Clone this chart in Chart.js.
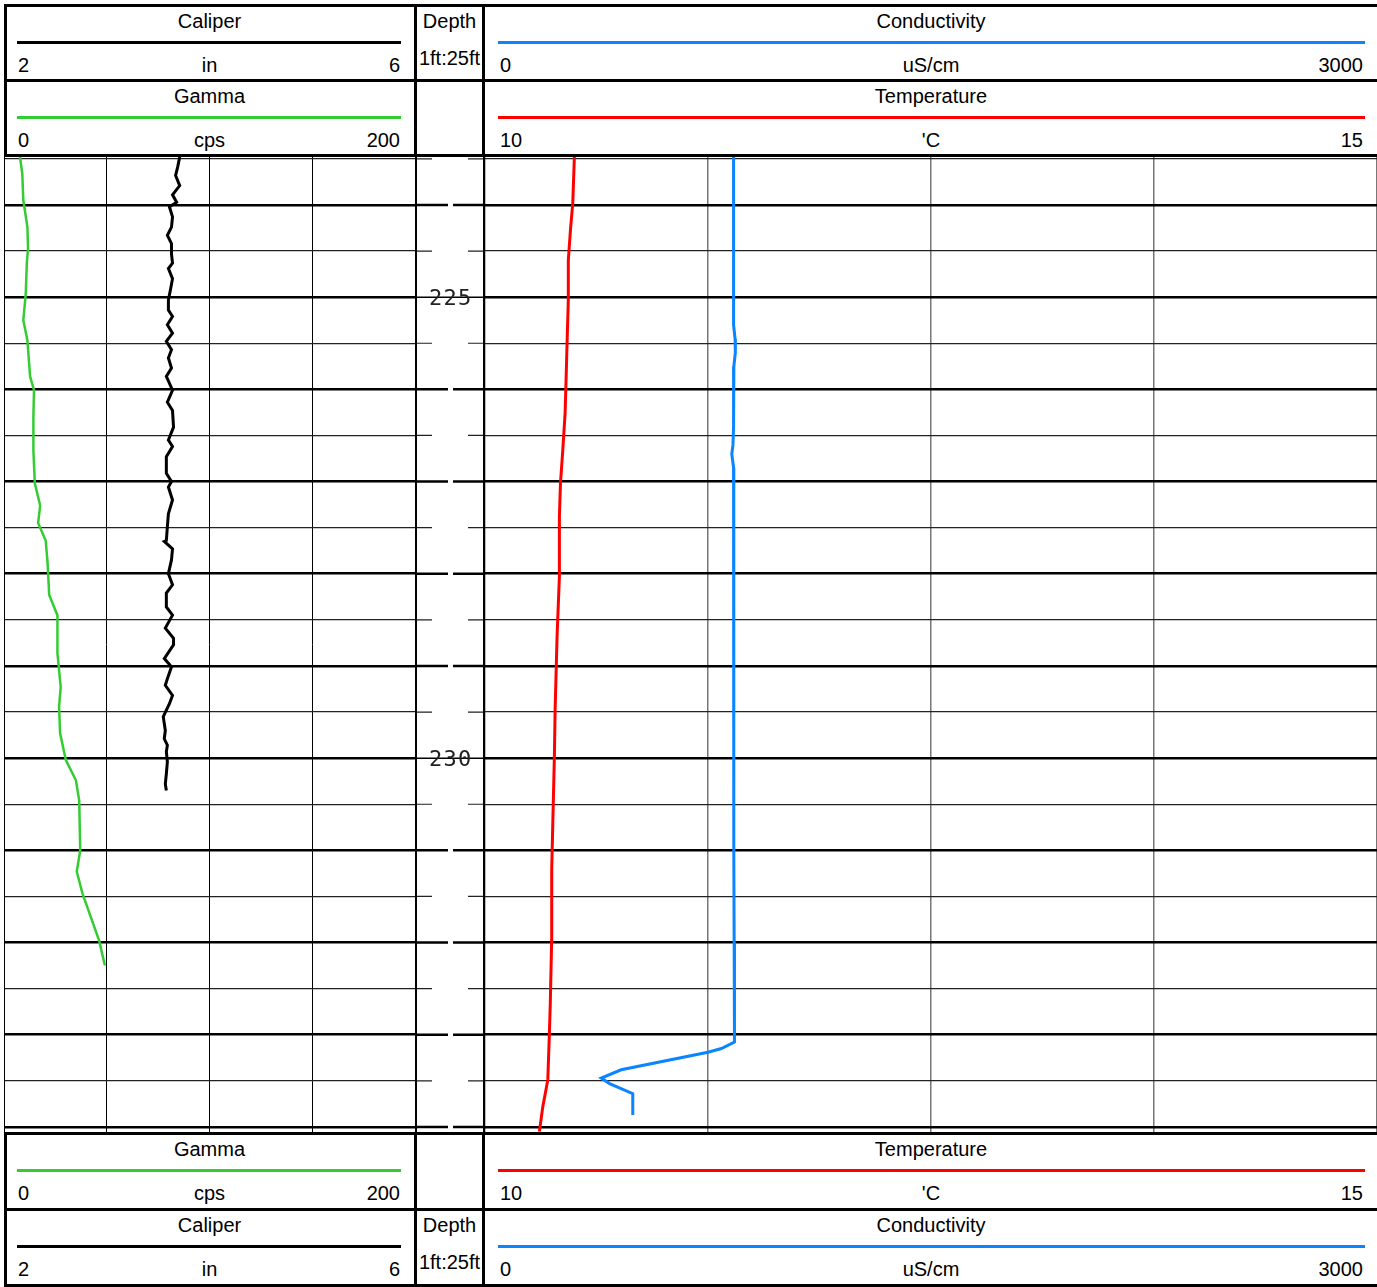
<!DOCTYPE html>
<html>
<head>
<meta charset="utf-8">
<title>Well log</title>
<script src="https://cdn.jsdelivr.net/npm/chart.js@4.4.0/dist/chart.umd.min.js"></script>
<style>
	body { margin: 0; background: #fff; font-family: "Liberation Sans", Arial, sans-serif; }
	#page { position: relative; width: 1377px; height: 1287px; overflow: hidden; background: #fff; }
	#page canvas { position: absolute; }
	.ln { position: absolute; background: #000; }
	.tx { position: absolute; font-size: 20px; line-height: 20px; white-space: nowrap; color: #000; }
</style>
</head>
<body>
<div id="page">
	<canvas id="left-track" width="411" height="975" style="left:4px;top:157px"></canvas>
	<canvas id="depth-track" width="66" height="975" style="left:417px;top:157px"></canvas>
	<canvas id="right-track" width="892" height="975" style="left:485px;top:157px"></canvas>
</div>
<script>
// depth window of the plot (ft)
var depthTop = 223.48;
var depthBottom = 234.055;
var depthLabels = [225, 230];

// caliper (in)
var caliperDepth = [223.48, 223.59, 223.68, 223.79, 223.89, 223.97, 224.02, 224.13, 224.24, 224.33, 224.42, 224.53, 224.63, 224.69, 224.80, 224.92, 225.03, 225.14, 225.21, 225.30, 225.39, 225.48, 225.57, 225.66, 225.77, 225.86, 226.01, 226.14, 226.23, 226.41, 226.55, 226.62, 226.73, 226.91, 227.00, 227.06, 227.20, 227.35, 227.49, 227.64, 227.65, 227.73, 227.85, 228.00, 228.12, 228.21, 228.36, 228.45, 228.59, 228.70, 228.77, 228.92, 229.01, 229.14, 229.21, 229.32, 229.41, 229.55, 229.70, 229.79, 229.86, 229.93, 230.04, 230.17, 230.28, 230.35];
var caliperIn = [3.71, 3.69, 3.67, 3.71, 3.64, 3.68, 3.61, 3.64, 3.63, 3.59, 3.63, 3.63, 3.64, 3.60, 3.64, 3.62, 3.60, 3.60, 3.64, 3.59, 3.64, 3.58, 3.63, 3.60, 3.63, 3.58, 3.64, 3.59, 3.64, 3.65, 3.60, 3.64, 3.58, 3.58, 3.63, 3.60, 3.64, 3.60, 3.59, 3.58, 3.56, 3.64, 3.63, 3.60, 3.64, 3.58, 3.58, 3.64, 3.57, 3.65, 3.65, 3.56, 3.63, 3.59, 3.57, 3.64, 3.61, 3.55, 3.57, 3.56, 3.59, 3.58, 3.59, 3.58, 3.57, 3.58];

// gamma (cps)
var gammaDepth = [223.48, 223.66, 223.95, 224.24, 224.47, 224.63, 224.96, 225.25, 225.47, 225.86, 226.01, 226.30, 226.66, 227.02, 227.26, 227.45, 227.64, 227.88, 228.23, 228.45, 228.86, 229.23, 229.44, 229.73, 230.02, 230.24, 230.46, 231.00, 231.23, 231.47, 231.98, 232.25];
var gammaCps = [7.8, 8.9, 9.4, 11.4, 11.7, 11.1, 10.6, 9.4, 11.4, 12.7, 14.6, 14.3, 14.3, 15.0, 17.6, 16.6, 20.3, 21.2, 22.0, 26.0, 26.0, 27.6, 26.8, 27.3, 30.1, 35.0, 36.6, 37.1, 35.4, 38.2, 46.3, 49.1];

// temperature ('C)
var tempDepth = [223.48, 223.98, 224.27, 224.60, 225.03, 225.50, 225.86, 226.26, 226.66, 227.02, 227.38, 228.03, 228.68, 229.48, 229.98, 230.71, 231.21, 231.94, 232.66, 232.98, 233.49, 233.78, 234.05];
var tempC = [10.501, 10.492, 10.479, 10.467, 10.467, 10.460, 10.455, 10.449, 10.436, 10.423, 10.417, 10.417, 10.404, 10.393, 10.389, 10.380, 10.374, 10.374, 10.366, 10.361, 10.352, 10.324, 10.305];

// conductivity (uS/cm)
var condDepth = [223.48, 224.50, 225.30, 225.45, 225.60, 225.75, 226.40, 226.60, 226.70, 226.85, 227.50, 228.50, 230.00, 231.00, 232.00, 232.62, 233.08, 233.15, 233.19, 233.38, 233.47, 233.53, 233.64, 233.87];
var condUs = [836, 836, 836, 841, 842, 837, 836, 834, 830, 836, 836, 837, 837, 837, 838, 839, 839, 795, 750, 458, 391, 419, 497, 497];

// header / footer legends
var caliperHead = { title: "Caliper", color: "#000000", min: "2", unit: "in", max: "6" };
var gammaHead = { title: "Gamma", color: "#33cc33", min: "0", unit: "cps", max: "200" };
var condHead = { title: "Conductivity", color: "#0a84ff", min: "0", unit: "uS/cm", max: "3000" };
var tempHead = { title: "Temperature", color: "#ff0000", min: "10", unit: "'C", max: "15" };

var PAGE_W = 1377;
var page = document.getElementById("page");

// half-foot grid, heavy line on every foot
var depthTicks = [];
for (var d = Math.ceil(depthTop * 2) / 2; d <= depthBottom; d += 0.5) {
	depthTicks.push(d);
}

var toPoints = function (depths, values) {
	return depths.map(function (dep, i) {
		return { x: values[i], y: dep };
	});
};

var depthAxis = function () {
	return {
		type: "linear",
		reverse: true,
		min: depthTop,
		max: depthBottom,
		ticks: { display: false },
		afterBuildTicks: function (scale) {
			scale.ticks = depthTicks.map(function (v) { return { value: v }; });
		},
		grid: {
			drawTicks: false,
			color: function (ctx) {
				return ctx.tick && ctx.tick.value % 1 === 0 ? "#000" : "#222";
			},
			lineWidth: function (ctx) {
				return ctx.tick && ctx.tick.value % 1 === 0 ? 2.5 : 1.2;
			},
		},
		border: { display: false },
	};
};

var line = function (x, y, w, h, color) {
	var el = document.createElement("div");
	el.className = "ln";
	el.style.left = x + "px";
	el.style.top = y + "px";
	el.style.width = w + "px";
	el.style.height = h + "px";
	if (color) el.style.background = color;
	page.appendChild(el);
};

// baseline-placed text, align: l / c / r
var text = function (str, x, baseline, align) {
	var el = document.createElement("span");
	el.className = "tx";
	el.textContent = str;
	el.style.top = (baseline - 17) + "px";
	if (align === "r") {
		el.style.right = (PAGE_W - x) + "px";
	} else if (align === "c") {
		el.style.left = x + "px";
		el.style.transform = "translateX(-50%)";
	} else {
		el.style.left = x + "px";
	}
	page.appendChild(el);
};

var legendRow = function (top, left, showDepth, right) {
	// left track cell
	text(left.title, 209.5, top + 21, "c");
	line(17, top + 33.5, 384, 3, left.color);
	text(left.min, 18, top + 65, "l");
	text(left.unit, 209.5, top + 65, "c");
	text(left.max, 400, top + 65, "r");
	// depth cell
	if (showDepth) {
		text("Depth", 449.5, top + 21, "c");
		text("1ft:25ft", 449.5, top + 58, "c");
	}
	// right track cell
	text(right.title, 931, top + 21, "c");
	line(498, top + 33.5, 867, 3, right.color);
	text(right.min, 500, top + 65, "l");
	text(right.unit, 931, top + 65, "c");
	text(right.max, 1363, top + 65, "r");
};

var handleFrames = function () {
	// header box
	line(4, 4, PAGE_W - 4, 3);
	line(4, 79, PAGE_W - 4, 3);
	line(4, 154, PAGE_W - 4, 3);
	line(4, 4, 3, 153);
	line(414, 4, 3, 153);
	line(482, 4, 3, 153);
	legendRow(7, caliperHead, true, condHead);
	legendRow(82, gammaHead, false, tempHead);

	// track borders
	line(3.5, 157, 1.5, 975);
	line(415, 157, 2, 975);
	line(483, 157, 2, 975);

	// footer box
	line(4, 1132, PAGE_W - 4, 3);
	line(4, 1208, PAGE_W - 4, 3);
	line(4, 1284, PAGE_W - 4, 3);
	line(4, 1132, 3, 155);
	line(414, 1132, 3, 155);
	line(482, 1132, 3, 155);
	legendRow(1135, gammaHead, false, tempHead);
	legendRow(1211, caliperHead, true, condHead);
};

var handleLeftTrack = function () {
	var ctx = document.getElementById("left-track").getContext("2d");
	return new Chart(ctx, {
		type: "scatter",
		data: {
			datasets: [
				{
					label: "Gamma",
					data: toPoints(gammaDepth, gammaCps),
					xAxisID: "x",
					showLine: true,
					borderColor: gammaHead.color,
					borderWidth: 2.5,
					pointRadius: 0,
					tension: 0,
				},
				{
					label: "Caliper",
					data: toPoints(caliperDepth, caliperIn),
					xAxisID: "x2",
					showLine: true,
					borderColor: caliperHead.color,
					borderWidth: 3,
					pointRadius: 0,
					tension: 0,
				},
			],
		},
		options: {
			responsive: false,
			animation: false,
			layout: { padding: 0 },
			plugins: { legend: { display: false }, tooltip: { enabled: false } },
			scales: {
				x: {
					type: "linear",
					min: 0,
					max: 200,
					ticks: { display: false, stepSize: 50 },
					grid: { drawTicks: false, color: "#000", lineWidth: 1 },
					border: { display: false },
				},
				x2: { type: "linear", min: 2, max: 6, display: false },
				y: depthAxis(),
			},
		},
	});
};

var handleRightTrack = function () {
	var ctx = document.getElementById("right-track").getContext("2d");
	return new Chart(ctx, {
		type: "scatter",
		data: {
			datasets: [
				{
					label: "Temperature",
					data: toPoints(tempDepth, tempC),
					xAxisID: "x",
					showLine: true,
					borderColor: tempHead.color,
					borderWidth: 3,
					pointRadius: 0,
					tension: 0,
				},
				{
					label: "Conductivity",
					data: toPoints(condDepth, condUs),
					xAxisID: "x2",
					showLine: true,
					borderColor: condHead.color,
					borderWidth: 3,
					pointRadius: 0,
					tension: 0,
				},
			],
		},
		options: {
			responsive: false,
			animation: false,
			layout: { padding: 0 },
			plugins: { legend: { display: false }, tooltip: { enabled: false } },
			scales: {
				x: {
					type: "linear",
					min: 10,
					max: 15,
					ticks: { display: false, stepSize: 1.25 },
					grid: { drawTicks: false, color: "#777", lineWidth: 1.5 },
					border: { display: false },
				},
				x2: { type: "linear", min: 0, max: 3000, display: false },
				y: depthAxis(),
			},
		},
	});
};

// depth column: split tick lines and the 5 ft labels
var depthColumnPlugin = {
	id: "depthColumn",
	afterDraw: function (chart) {
		var c = chart.ctx;
		var ys = chart.scales.y;
		var w = chart.width;
		c.save();
		depthTicks.forEach(function (v) {
			var y = ys.getPixelForValue(v);
			c.beginPath();
			if (depthLabels.indexOf(v) !== -1) {
				c.strokeStyle = "#000";
				c.lineWidth = 1.5;
				c.moveTo(0, y);
				c.lineTo(w, y);
			} else if (v % 1 === 0) {
				c.strokeStyle = "#000";
				c.lineWidth = 2.5;
				c.moveTo(0, y);
				c.lineTo(31, y);
				c.moveTo(36, y);
				c.lineTo(w, y);
			} else {
				c.strokeStyle = "#222";
				c.lineWidth = 1.2;
				c.moveTo(0, y);
				c.lineTo(15, y);
				c.moveTo(51, y);
				c.lineTo(w, y);
			}
			c.stroke();
		});
		c.fillStyle = "#222";
		c.font = "22px 'DejaVu Sans Mono'";
		c.textAlign = "center";
		c.textBaseline = "alphabetic";
		depthLabels.forEach(function (v) {
			var y = ys.getPixelForValue(v);
			var s = String(v);
			for (var i = 0; i < s.length; i++) {
				c.fillText(s[i], 33 + (i - 1) * 14.5, y + 8);
			}
		});
		c.restore();
	},
};

var handleDepthTrack = function () {
	var ctx = document.getElementById("depth-track").getContext("2d");
	return new Chart(ctx, {
		type: "scatter",
		data: { datasets: [{ data: [] }] },
		options: {
			responsive: false,
			animation: false,
			layout: { padding: 0 },
			plugins: { legend: { display: false }, tooltip: { enabled: false } },
			scales: {
				x: { type: "linear", min: 0, max: 1, display: false },
				y: { type: "linear", reverse: true, min: depthTop, max: depthBottom, display: false },
			},
		},
		plugins: [depthColumnPlugin],
	});
};

var WellLog = (function () {
	"use strict";
	return {
		init: function () {
			handleLeftTrack();
			handleDepthTrack();
			handleRightTrack();
			handleFrames();
		},
	};
})();
document.addEventListener("DOMContentLoaded", function () {
	WellLog.init();
});
</script>
</body>
</html>
